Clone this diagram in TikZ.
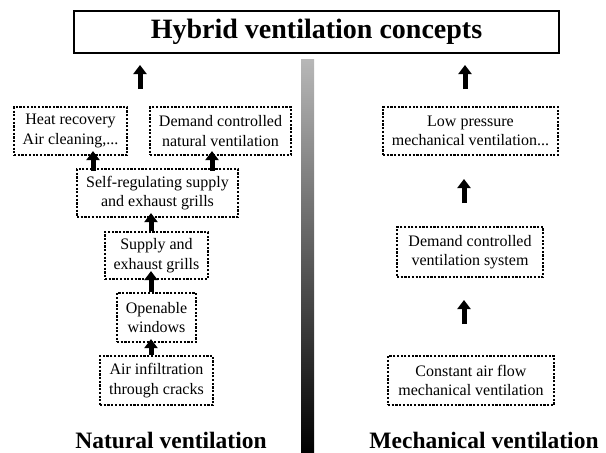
\documentclass[tikz,border=0pt]{standalone}
\usepackage{fontspec}
\setmainfont{Liberation Serif}
\usetikzlibrary{arrows.meta}
\definecolor{bartop}{gray}{0.72}
\begin{document}
\begin{tikzpicture}[x=1pt,y=-1pt,
  cbox/.style={draw, line width=2.2pt, dash pattern=on 2.2pt off 1.5pt,
    align=center, inner sep=0pt, font=\fontsize{16}{19.5}\selectfont},
  arr/.style={line width=5pt, -{Triangle[width=13pt,length=9pt]}},
  lbl/.style={anchor=base, inner sep=0pt, font=\fontsize{23.5}{28}\bfseries\selectfont}]
\useasboundingbox (0,0) rectangle (606,453);
% gradient divider
\shade[top color=bartop, bottom color=black] (301,59) rectangle (314,453);
% title
\node[draw, line width=2pt, minimum width=485pt, minimum height=42pt, inner sep=0pt,
  font=\fontsize{28}{32}\bfseries\selectfont] (T) at (316.5,32) {Hybrid ventilation concepts};
% left column
\node[cbox, minimum width=113pt, minimum height=48pt] (HR) at (70.5,131) {Heat recovery\\Air cleaning,...};
\node[cbox, minimum width=141pt, minimum height=48pt] (DN) at (220.5,131) {Demand controlled\\natural ventilation};
\node[cbox, minimum width=161pt, minimum height=48pt] (SR) at (157.5,193) {Self-regulating supply\\and exhaust grills};
\node[cbox, minimum width=103pt, minimum height=47pt] (SU) at (156.5,255.5) {Supply and\\exhaust grills};
\node[cbox, minimum width=79pt, minimum height=49pt] (OP) at (156.5,317.5) {Openable\\windows};
\node[cbox, minimum width=113pt, minimum height=49pt] (AI) at (156.5,380.5) {Air infiltration\\through cracks};
% right column
\node[cbox, minimum width=175pt, minimum height=48pt] (LP) at (470.5,131) {Low pressure\\mechanical ventilation...};
\node[cbox, minimum width=146pt, minimum height=50pt] (DV) at (470,252) {Demand controlled\\ventilation system};
\node[cbox, minimum width=166pt, minimum height=49pt] (CA) at (471,380.5) {Constant air flow\\mechanical ventilation};
% labels
\node[lbl] (NV) at (171,448) {Natural ventilation};
\node[lbl] (MV) at (484,448) {Mechanical ventilation};
% free-standing arrows
\coordinate (la0) at (140,89);
\coordinate (la1) at (140,65);
\coordinate (ra0) at (465,89);
\coordinate (ra1) at (465,65);
\coordinate (rb0) at (464,203);
\coordinate (rb1) at (464,179);
\coordinate (rc0) at (464,324);
\coordinate (rc1) at (464,300);
\draw[arr] (la0) -- (la1);
\draw[arr] (ra0) -- (ra1);
\draw[arr] (rb0) -- (rb1);
\draw[arr] (rc0) -- (rc1);
% left column arrows
\draw[arr] ([xshift=-64.5pt,yshift=-3pt]SR.north) -- ([xshift=22.5pt,yshift=5pt]HR.south);
\draw[arr] ([xshift=54.5pt,yshift=-3pt]SR.north) -- ([xshift=-8.5pt,yshift=5pt]DN.south);
\draw[arr] ([xshift=-5.5pt]SU.north) -- ([xshift=-6.5pt,yshift=5pt]SR.south);
\draw[arr] ([xshift=-5.5pt]OP.north) -- ([xshift=-5.5pt,yshift=9pt]SU.south);
\draw[arr] ([xshift=-5.5pt]AI.north) -- ([xshift=-5.5pt,yshift=4pt]OP.south);
\end{tikzpicture}
\end{document}
